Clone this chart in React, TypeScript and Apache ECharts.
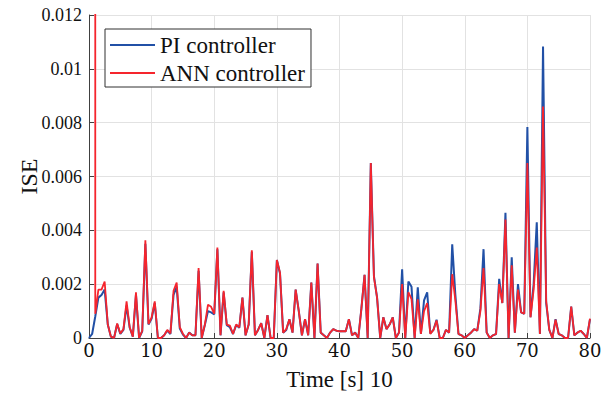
import React, { useEffect, useRef } from "react";
import * as echarts from "echarts";

const times = [
  0, 0.5, 1, 1.5, 2, 2.5, 3, 3.5, 4, 4.5,
  5, 5.5, 6, 6.5, 7, 7.5, 8, 8.5, 9, 9.5,
  10, 10.5, 11, 11.5, 12, 12.5, 13, 13.5, 14, 14.5,
  15, 15.5, 16, 16.5, 17, 17.5, 18, 18.5, 19, 19.5,
  20, 20.5, 21, 21.5, 22, 22.5, 23, 23.5, 24, 24.5,
  25, 25.5, 26, 26.5, 27, 27.5, 28, 28.5, 29, 29.5,
  30, 30.5, 31, 31.5, 32, 32.5, 33, 33.5, 34, 34.5,
  35, 35.5, 36, 36.5, 37, 37.5, 38, 38.5, 39, 39.5,
  40, 40.5, 41, 41.5, 42, 42.5, 43, 43.5, 44, 44.5,
  45, 45.5, 46, 46.5, 47, 47.5, 48, 48.5, 49, 49.5,
  50, 50.5, 51, 51.5, 52, 52.5, 53, 53.5, 54, 54.5,
  55, 55.5, 56, 56.5, 57, 57.5, 58, 58.5, 59, 59.5,
  60, 60.5, 61, 61.5, 62, 62.5, 63, 63.5, 64, 64.5,
  65, 65.5, 66, 66.5, 67, 67.5, 68, 68.5, 69, 69.5,
  70, 70.5, 71, 71.5, 72, 72.5, 73, 73.5, 74, 74.5,
  75, 75.5, 76, 76.5, 77, 77.5, 78, 78.5, 79, 79.5,
  80,
];

const piISE = [
  0, 0.00015, 0.0008, 0.0015, 0.0016, 0.0018, 0.0005, 0.00005, 0, 0.00052,
  0.00015, 0.0003, 0.0012, 0.00038, 0.00005, 0.0016, 0, 0.00025, 0.0035, 0.0005,
  0.00072, 0.0013, 0, 0, 0.0001, 0.00028, 0.00015, 0.0016, 0.0019, 0.00035,
  0.00013, 0, 0.0002, 0.0001, 0.0001, 0.0025, 0, 0.00048, 0.001, 0.00095,
  0.00088, 0.0033, 0.0001, 0.0017, 0.00048, 0.0004, 0.00015, 0.00048, 0.00038, 0.0015,
  0.0001, 0.0005, 0.0032, 0.0001, 0.0003, 0.00055, 0, 0.00085, 0, 0,
  0.0029, 0.0024, 0.0002, 0.0003, 0.0007, 0.0002, 0.0018, 0.001, 0.0001, 0.0007,
  0.0001, 0.00206, 0, 0.00277, 0.0002, 0.0001, 0, 0.0002, 0.00033, 0.00027,
  0.00025, 0.00025, 0.00025, 0.0007, 0.0001, 0.0002, 0, 0.0011, 0.00235, 0,
  0.0065, 0.0023, 0.0015, 0, 0.00077, 0.00033, 0.0005, 0.00077, 0, 0.0002,
  0.00255, 0, 0.0021, 0.0019, 0, 0.00188, 0.00015, 0.0014, 0.0017, 0.00017,
  0.0003, 0.00068, 0, 0, 0.0003, 0.0002, 0.00348, 0.0016, 0.00015, 0.0001,
  0, 0.0001, 0.0002, 0.00033, 0.00027, 0.0011, 0.0033, 0.0002, 0, 0.0001,
  0.00015, 0.0022, 0.0013, 0.00465, 0, 0.003, 0.0002, 0.002, 0.00095, 0.0009,
  0.00784, 0.00077, 0.002, 0.0043, 0.00015, 0.01083, 0.0013, 0.0003, 0, 0.0007,
  0.00015, 0.0001, 0, 0, 0.00117, 0.0001, 0.0002, 0.00027, 0.00015, 0,
  0.0007,
];

const annISE = [
  null, null, 0.0009, 0.0018, 0.0018, 0.0021, 0.0005, 0.00005, 0, 0.00054,
  0.00017, 0.00033, 0.00136, 0.0004, 0.00005, 0.0017, 0, 0.00027, 0.00363, 0.00052,
  0.00077, 0.00136, 0, 0, 0.0001, 0.0003, 0.00017, 0.00175, 0.00206, 0.0004,
  0.00015, 0, 0.0002, 0.0001, 0.0001, 0.0026, 0, 0.0005, 0.00124, 0.00116,
  0.0009, 0.00336, 0.0001, 0.00175, 0.0005, 0.00046, 0.00015, 0.0005, 0.0004, 0.0015,
  0.0001, 0.0005, 0.00326, 0.0001, 0.0003, 0.00055, 0, 0.00085, 0, 0,
  0.0029, 0.00243, 0.0002, 0.00033, 0.0007, 0.0002, 0.0018, 0.001, 0.0001, 0.0007,
  0.0001, 0.00206, 0, 0.00277, 0.0002, 0.0001, 0, 0.0002, 0.00033, 0.00027,
  0.00025, 0.00025, 0.00025, 0.0007, 0.0001, 0.0002, 0, 0.0011, 0.00235, 0,
  0.0065, 0.00225, 0.0015, 0, 0.00077, 0.00033, 0.0005, 0.00077, 0, 0.0002,
  0.002, 0, 0.0017, 0.00144, 0, 0.00144, 0.00015, 0.001, 0.0013, 0.00015,
  0.0003, 0.00065, 0, 0, 0.0003, 0.0002, 0.00237, 0.0014, 0.00015, 0.0001,
  0, 0.0001, 0.0002, 0.00033, 0.00027, 0.001, 0.0026, 0.0002, 0, 0.0001,
  0.00015, 0.002, 0.0013, 0.0044, 0, 0.0027, 0.0002, 0.0018, 0.00095, 0.0009,
  0.0065, 0.00077, 0.0018, 0.00336, 0.00015, 0.0086, 0.00138, 0.0003, 0, 0.00068,
  0.00015, 0.0001, 0, 0, 0.00117, 0.0001, 0.0002, 0.00027, 0.00015, 0,
  0.00072,
];

// ANN start-up transient (goes far above the plotted range)
const annStartupTime = [1];
const annStartupValue = [0.3];

const seriesNames = ["PI controller", "ANN controller"];
const FONT = "Liberation Serif, Times New Roman, serif";

export default function App() {
  const ref = useRef<HTMLDivElement>(null);

  useEffect(() => {
    if (!ref.current) return;
    const chart = echarts.init(ref.current, null, { renderer: "svg" });

    const piData = times.map((t, i) => [t, piISE[i]]);
    const annData: number[][] = annStartupTime.map((t, i) => [t, annStartupValue[i]]);
    times.forEach((t, i) => {
      if (annISE[i] !== null) annData.push([t, annISE[i] as number]);
    });

    const axisColor = "#404040";
    const gridColor = "#e2e2e2";

    chart.setOption({
      animation: false,
      backgroundColor: "#ffffff",
      textStyle: { fontFamily: FONT },
      grid: { left: 89, right: 18, top: 15, bottom: 57, containLabel: false },
      legend: {
        data: seriesNames,
        orient: "vertical",
        left: 105,
        top: 29,
        padding: [3, 6, 1, 5],
        itemGap: 2,
        itemWidth: 45,
        itemHeight: 2,
        icon: "rect",
        backgroundColor: "#ffffff",
        borderColor: "#303030",
        borderWidth: 1,
        textStyle: { fontFamily: FONT, fontSize: 23, color: "#111", lineHeight: 26 },
      },
      xAxis: {
        type: "value",
        min: 0,
        max: 80,
        interval: 10,
        name: "Time [s] 10",
        nameLocation: "middle",
        nameGap: 30,
        nameMoveOverlap: false,
        nameTextStyle: { fontFamily: FONT, fontSize: 23, color: "#111" },
        axisLine: { show: true, onZero: false, lineStyle: { color: axisColor, width: 1 } },
        axisTick: { show: true, inside: true, length: 5, lineStyle: { color: axisColor } },
        axisLabel: { fontFamily: "DejaVu Serif", fontSize: 18, color: "#111", margin: 3 },
        splitLine: { show: true, lineStyle: { color: gridColor, width: 1 } },
      },
      yAxis: {
        type: "value",
        min: 0,
        max: 0.012,
        interval: 0.002,
        name: "ISE",
        nameLocation: "middle",
        nameGap: 48,
        nameRotate: 90,
        nameMoveOverlap: false,
        nameTextStyle: { fontFamily: FONT, fontSize: 24, color: "#111" },
        axisLine: { show: true, onZero: false, lineStyle: { color: axisColor, width: 1 } },
        axisTick: { show: true, inside: true, length: 5, lineStyle: { color: axisColor } },
        axisLabel: { fontFamily: FONT, fontSize: 18, color: "#111", margin: 7 },
        splitLine: { show: true, lineStyle: { color: gridColor, width: 1 } },
      },
      series: [
        {
          name: seriesNames[0],
          type: "line",
          data: piData,
          showSymbol: false,
          symbol: "none",
          color: "#2150a6",
          lineStyle: { width: 2, color: "#2150a6" },
          clip: true,
        },
        {
          name: seriesNames[1],
          type: "line",
          data: annData,
          showSymbol: false,
          symbol: "none",
          color: "#f5252d",
          lineStyle: { width: 1.8, color: "#f5252d" },
          clip: true,
        },
      ],
    });

    return () => chart.dispose();
  }, []);

  return (
    <div
      ref={ref}
      style={{ position: "fixed", left: 0, top: 0, width: 608, height: 396 }}
    />
  );
}
